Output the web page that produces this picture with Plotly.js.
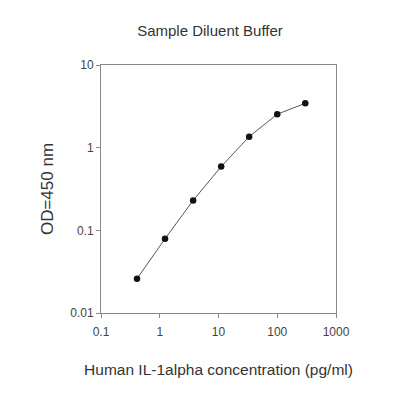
<!DOCTYPE html>
<html><head><meta charset="utf-8">
<script src="https://cdn.plot.ly/plotly-3.0.1.min.js"></script>
<style>body{margin:0;background:#fff}#c{width:400px;height:400px}</style>
</head><body><div id="c"></div>
<script>
var concentration = [0.41, 1.23, 3.7, 11.1, 33.3, 100, 300];
var od450 = [0.026, 0.079, 0.23, 0.59, 1.36, 2.54, 3.44];
var xTicks = [0.1, 1, 10, 100, 1000];
var xTickText = ['0.1', '1', '10', '100', '1000'];
var yTicks = [0.01, 0.1, 1, 10];
var yTickText = ['0.01', '0.1', '1', '10'];

var font = 'Liberation Sans, Arial, sans-serif';
Plotly.newPlot('c', [{
  x: concentration, y: od450, type: 'scatter', mode: 'lines+markers',
  line: {color: '#555', width: 1},
  marker: {color: '#111', size: 6.5}
}], {
  width: 400, height: 400,
  margin: {l: 101, r: 64, t: 65, b: 87},
  paper_bgcolor: '#fff', plot_bgcolor: '#fff',
  showlegend: false,
  title: {text: 'Sample Diluent Buffer', font: {family: font, size: 15, color: '#333'}, xref: 'container', x: 0.525, xanchor: 'center', y: 0.922, yanchor: 'middle'},
  xaxis: {type: 'log', range: [-1, 3], tickvals: xTicks, ticktext: xTickText,
    showgrid: false, zeroline: false, showline: true, mirror: true, linecolor: '#888', linewidth: 1,
    ticks: 'outside', ticklen: 4, tickcolor: '#888', ticklabelstandoff: 4,
    tickfont: {family: font, size: 12, color: '#444'},
    title: {text: 'Human IL-1alpha concentration (pg/ml)', font: {family: font, size: 15.5, color: '#333'}, standoff: 25}},
  yaxis: {type: 'log', range: [-2, 1], tickvals: yTicks, ticktext: yTickText,
    showgrid: false, zeroline: false, showline: true, mirror: true, linecolor: '#888', linewidth: 1,
    ticks: 'outside', ticklen: 4, tickcolor: '#888',
    tickfont: {family: font, size: 12, color: '#444'},
    title: {text: 'OD=450 nm', font: {family: font, size: 17, color: '#333'}, standoff: 12}}
}, {displayModeBar: false, staticPlot: true});
</script></body></html>
